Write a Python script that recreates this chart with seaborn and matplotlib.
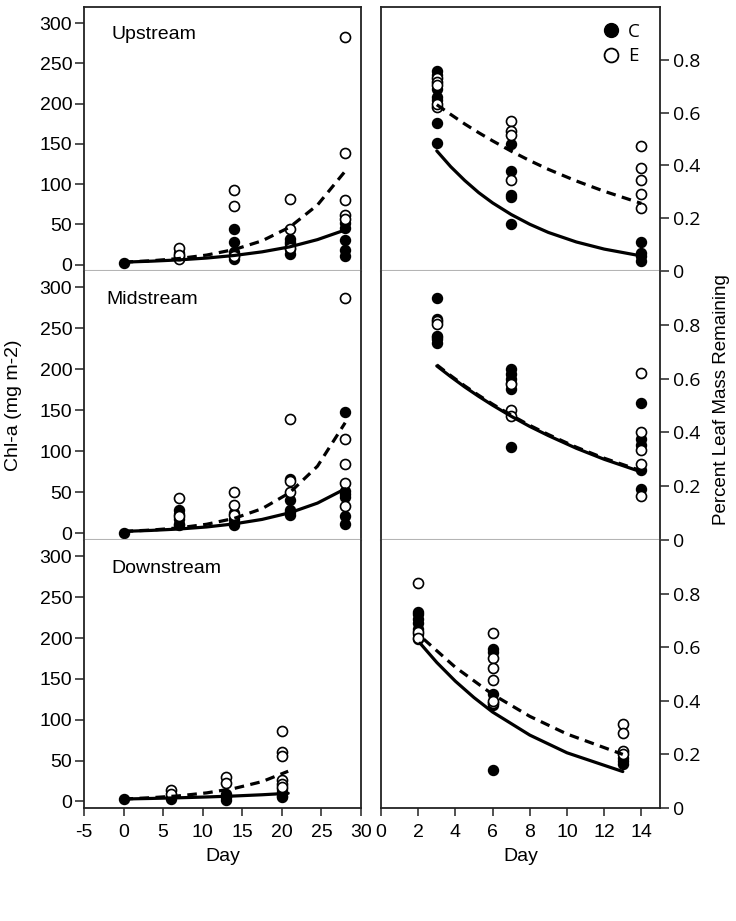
import numpy as np
import pandas as pd
import matplotlib.pyplot as plt
from matplotlib.lines import Line2D
import seaborn as sns

# Chl-a (mg m-2) per sampling day, C = filled, E = open
up_chl_days = [0, 7, 14, 21, 28]
up_chl_C = [[2], [14, 11, 8], [44, 28, 15, 11, 7], [32, 25, 19, 13, 28], [52, 45, 31, 18, 11]]
up_chl_E = [[], [21, 7, 12], [93, 73, 11], [82, 44, 20], [283, 139, 80, 61, 57]]

mid_chl_days = [0, 7, 14, 21, 28]
mid_chl_C = [[1], [28, 24, 17, 12, 10], [25, 17, 10, 13], [66, 41, 29, 23, 26], [148, 52, 48, 44, 21, 12]]
mid_chl_E = [[], [43, 21], [51, 35, 23], [139, 64, 50], [287, 115, 85, 61, 33]]

down_chl_days = [0, 6, 13, 20]
down_chl_C = [[3], [5, 3, 7], [9, 5, 2, 7], [7, 5, 11, 15]]
down_chl_E = [[], [14, 9], [30, 22], [86, 60, 56, 26, 21, 18]]

# Percent leaf mass remaining
up_leaf_days = [3, 7, 14]
up_leaf_C = [[0.758, 0.741, 0.69, 0.66, 0.648, 0.561, 0.484],
             [0.48, 0.377, 0.287, 0.281, 0.178],
             [0.109, 0.069, 0.057, 0.038]]
up_leaf_E = [[0.73, 0.717, 0.704, 0.623, 0.633],
             [0.567, 0.53, 0.517, 0.343],
             [0.474, 0.389, 0.343, 0.293, 0.24]]

mid_leaf_days = [3, 7, 14]
mid_leaf_C = [[0.899, 0.821, 0.759, 0.747, 0.734, 0.753],
              [0.635, 0.616, 0.6, 0.585, 0.56, 0.345],
              [0.511, 0.374, 0.355, 0.262, 0.188]]
mid_leaf_E = [[0.815, 0.802],
              [0.579, 0.482, 0.461],
              [0.622, 0.401, 0.333, 0.281, 0.163]]

down_leaf_days = [2, 6, 13]
down_leaf_C = [[0.732, 0.723, 0.705, 0.692, 0.667, 0.649, 0.63],
               [0.595, 0.583, 0.424, 0.383, 0.142],
               [0.188, 0.176, 0.163]]
down_leaf_E = [[0.838, 0.655, 0.636],
               [0.652, 0.558, 0.524, 0.478, 0.393, 0.4],
               [0.312, 0.281, 0.213, 0.2]]

# Fitted curves
chl_fit_days = [0, 3.5, 7, 10.5, 14, 17.5, 21, 24.5, 28]
up_chl_fit_C = [3, 4.2, 5.8, 8.1, 11.3, 15.8, 22, 31, 43]
up_chl_fit_E = [3, 4.7, 7.5, 11.8, 18.7, 29.5, 46.5, 74, 116]
mid_chl_fit_C = [2.5, 3.7, 5.4, 7.9, 11.7, 17.1, 25.2, 37, 54.4]
mid_chl_fit_E = [2.5, 4.1, 6.8, 11.2, 18.4, 30.2, 49.7, 82, 135]
down_chl_fit_days = [0, 3.5, 7, 10.5, 14, 17.5, 20.8]
down_chl_fit_C = [3, 3.7, 4.5, 5.5, 6.7, 8.2, 10]
down_chl_fit_E = [3, 4.6, 6.9, 10.5, 16, 24.3, 37]

leaf_fit_days = [3, 3.75, 4.5, 5.25, 6, 7, 8, 9, 10.5, 12, 14]
up_leaf_fit_C = [0.455, 0.395, 0.343, 0.297, 0.258, 0.214, 0.177, 0.146, 0.110, 0.083, 0.057]
up_leaf_fit_E = [0.63, 0.593, 0.557, 0.524, 0.493, 0.454, 0.418, 0.385, 0.341, 0.302, 0.256]
mid_leaf_fit_C = [0.647, 0.607, 0.569, 0.534, 0.501, 0.460, 0.422, 0.388, 0.341, 0.300, 0.253]
mid_leaf_fit_E = [0.651, 0.611, 0.573, 0.538, 0.505, 0.464, 0.426, 0.392, 0.345, 0.304, 0.257]
down_leaf_fit_days_C = [2.1, 3, 4, 5, 6, 8, 10, 13]
down_leaf_fit_C = [0.615, 0.543, 0.473, 0.412, 0.358, 0.272, 0.206, 0.136]
down_leaf_fit_days_E = [2.3, 4, 6, 8, 10, 13]
down_leaf_fit_E = [0.63, 0.525, 0.424, 0.342, 0.276, 0.2]

site_names = ['Upstream', 'Midstream', 'Downstream']


def to_long(days, groups):
    rows = [(d, v) for d, vals in zip(days, groups) for v in vals]
    return pd.DataFrame(rows, columns=['day', 'value'])


sns.set_theme(style='white')
plt.rcParams['font.family'] = ['Liberation Sans', 'DejaVu Sans']
plt.rcParams['axes.unicode_minus'] = False
plt.rcParams['text.color'] = 'black'
plt.rcParams['axes.labelcolor'] = 'black'
plt.rcParams['xtick.color'] = 'black'
plt.rcParams['ytick.color'] = 'black'

fig = plt.figure(figsize=(7.36, 9.21), dpi=100)
W, H = 736, 921
rows_px = [(7, 271), (271, 540), (540, 808)]
left_px = (84, 361)
right_px = (381, 660)

dark = '#222222'
sep = '#b4b4b4'
dash = (0, (3, 2))

chl_sets = [
    (up_chl_days, up_chl_C, up_chl_E, chl_fit_days, up_chl_fit_C, chl_fit_days, up_chl_fit_E),
    (mid_chl_days, mid_chl_C, mid_chl_E, chl_fit_days, mid_chl_fit_C, chl_fit_days, mid_chl_fit_E),
    (down_chl_days, down_chl_C, down_chl_E, down_chl_fit_days, down_chl_fit_C, down_chl_fit_days, down_chl_fit_E),
]
leaf_sets = [
    (up_leaf_days, up_leaf_C, up_leaf_E, leaf_fit_days, up_leaf_fit_C, leaf_fit_days, up_leaf_fit_E),
    (mid_leaf_days, mid_leaf_C, mid_leaf_E, leaf_fit_days, mid_leaf_fit_C, leaf_fit_days, mid_leaf_fit_E),
    (down_leaf_days, down_leaf_C, down_leaf_E, down_leaf_fit_days_C, down_leaf_fit_C,
     down_leaf_fit_days_E, down_leaf_fit_E),
]


def draw_panel(ax, data):
    days, grp_c, grp_e, fdc, fc, fde, fe = data
    sns.scatterplot(data=to_long(days, grp_c), x='day', y='value', ax=ax,
                    color='black', edgecolor='black', s=52, linewidth=1.0, zorder=2)
    sns.scatterplot(data=to_long(days, grp_e), x='day', y='value', ax=ax,
                    facecolor='white', edgecolor='black', s=52, linewidth=1.2, zorder=2)
    sns.lineplot(x=fdc, y=fc, ax=ax, color='black', lw=2.3, sort=False,
                 estimator=None, zorder=3)
    sns.lineplot(x=fde, y=fe, ax=ax, color='black', lw=2.3, sort=False,
                 estimator=None, linestyle=dash, zorder=3)
    ax.set_xlabel('')
    ax.set_ylabel('')


def style_spines(ax, row):
    for side in ['left', 'right']:
        ax.spines[side].set_color(dark)
        ax.spines[side].set_linewidth(1.3)
    ax.spines['top'].set_visible(row == 0)
    ax.spines['top'].set_color(dark)
    ax.spines['top'].set_linewidth(1.3)
    ax.spines['bottom'].set_color(dark if row == 2 else sep)
    ax.spines['bottom'].set_linewidth(1.3 if row == 2 else 1.5)


for row, (y0, y1) in enumerate(rows_px):
    # left: chlorophyll
    axl = fig.add_axes([left_px[0] / W, 1 - y1 / H,
                        (left_px[1] - left_px[0]) / W, (y1 - y0) / H])
    draw_panel(axl, chl_sets[row])
    axl.set_xlim(-5, 30)
    axl.set_ylim(-8, 320)
    axl.set_yticks(np.arange(0, 301, 50))
    axl.set_xticks(np.arange(-5, 31, 5))
    axl.tick_params(axis='y', left=True, length=6.5, width=1.1, pad=2,
                    labelsize=14, color=dark)
    axl.tick_params(axis='x', bottom=(row == 2), labelbottom=(row == 2),
                    length=5.5, width=1.1, pad=6, labelsize=14, color=dark)
    style_spines(axl, row)
    axl.text(0.1 if row != 1 else 0.082, 0.895, site_names[row],
             transform=axl.transAxes, fontsize=14, va='center', ha='left')

    # right: leaf mass
    axr = fig.add_axes([right_px[0] / W, 1 - y1 / H,
                        (right_px[1] - right_px[0]) / W, (y1 - y0) / H])
    draw_panel(axr, leaf_sets[row])
    axr.set_xlim(0, 15)
    axr.set_ylim(0, 1.0)
    axr.yaxis.tick_right()
    axr.set_yticks([0, 0.2, 0.4, 0.6, 0.8])
    axr.set_yticklabels(['0', '0.2', '0.4', '0.6', '0.8'], family='Open Sans')
    axr.set_xticks(np.arange(0, 15, 2))
    axr.tick_params(axis='y', right=True, left=False, length=6.5, width=1.1,
                    pad=2.5, labelsize=14, color=dark)
    axr.tick_params(axis='x', bottom=(row == 2), labelbottom=(row == 2),
                    length=5.5, width=1.1, pad=6, labelsize=14, color=dark)
    style_spines(axr, row)

    if row == 2:
        axl.set_xlabel('Day', fontsize=14, labelpad=5)
        axr.set_xlabel('Day', fontsize=14, labelpad=5)

    if row == 0:
        handles = [
            Line2D([], [], marker='o', ls='', markersize=10, markerfacecolor='black',
                   markeredgecolor='black', label='C'),
            Line2D([], [], marker='o', ls='', markersize=10, markerfacecolor='white',
                   markeredgecolor='black', markeredgewidth=1.3, label='E'),
        ]
        axr.legend(handles=handles, loc='upper right', bbox_to_anchor=(0.975, 0.99),
                   frameon=False, prop={'family': 'Open Sans', 'size': 13.5},
                   handletextpad=0.3, labelspacing=0.35, borderaxespad=0.3,
                   handlelength=1.2)

fig.text(14 / W, 1 - 405 / H, 'Chl-a (mg m-2)', rotation=90, fontsize=14,
         ha='center', va='center')
fig.text(722 / W, 1 - 400 / H, 'Percent Leaf Mass Remaining', rotation=90,
         fontsize=13.5, ha='center', va='center')

fig.savefig('out.png', dpi=100, facecolor='white')
